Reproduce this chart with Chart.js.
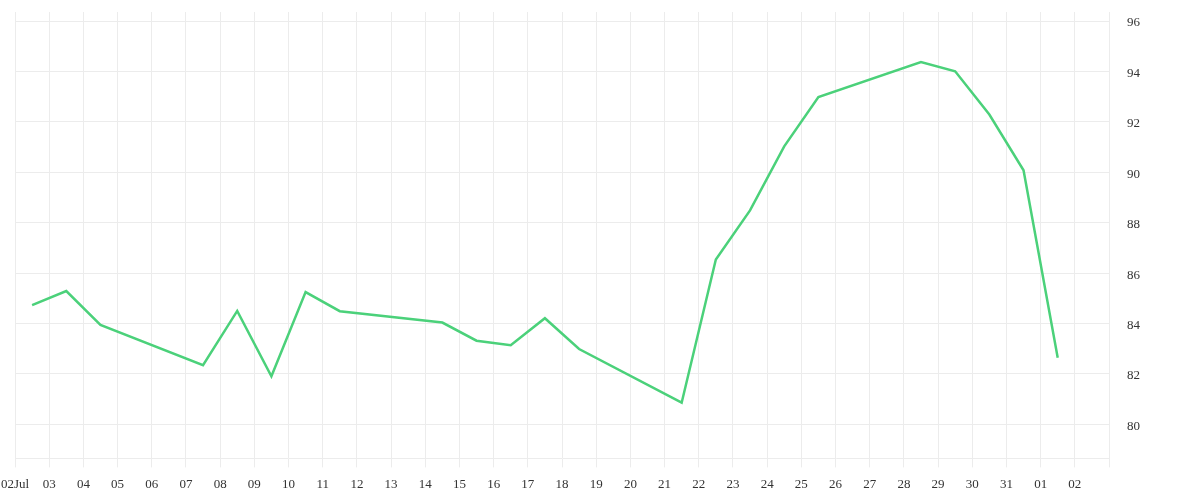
<!DOCTYPE html>
<html lang="en">
<head>
    <meta charset="UTF-8">
    <title>Daily Index</title>
    <style>
        body {
            margin: 0;
            padding: 0;
            background: #ffffff;
        }
        .wrap {
            width: 1200px;
            height: 500px;
        }
    </style>
</head>
<body>
    <div class="wrap">
        <canvas id="lineChart" width="1200" height="500"></canvas>
    </div>

    <script src="https://cdn.jsdelivr.net/npm/chart.js@4"></script>
    <script>
        // Axis labels: one per day, 02 Jul .. 02 Aug
        const dayLabels = ['02Jul', '03', '04', '05', '06', '07', '08', '09', '10', '11', '12', '13',
            '14', '15', '16', '17', '18', '19', '20', '21', '22', '23', '24', '25', '26', '27',
            '28', '29', '30', '31', '01', '02'];

        // Days that have a value (index into dayLabels), some days have no data
        const pointDays = [0, 1, 2, 5, 6, 7, 8, 9, 12, 13, 14, 15, 16, 19, 20, 21, 22, 23, 26, 27, 28, 29, 30];
        const pointValues = [84.73, 85.29, 83.95, 82.35, 84.50, 81.91, 85.25, 84.49, 84.04, 83.32, 83.14,
            84.21, 82.99, 80.86, 86.54, 88.49, 91.03, 92.99, 94.37, 94.01, 92.29, 90.08, 82.64];

        const yTicks = [80, 82, 84, 86, 88, 90, 92, 94, 96];

        const gridColor = '#ececec';
        const textColor = '#333333';
        const fontFamily = '"Liberation Serif", serif';

        // points sit in the middle of each day
        const points = pointDays.map((d, i) => ({ x: d + 0.5, y: pointValues[i] }));

        new Chart(document.getElementById('lineChart'), {
            type: 'line',
            data: {
                datasets: [{
                    data: points,
                    borderColor: '#4bd17a',
                    borderWidth: 2.5,
                    pointRadius: 0,
                    tension: 0,
                    fill: false
                }]
            },
            options: {
                responsive: false,
                animation: false,
                layout: {
                    padding: { top: 12, right: 42, bottom: -1, left: 15 }
                },
                plugins: {
                    legend: { display: false },
                    tooltip: { enabled: false }
                },
                scales: {
                    x: {
                        type: 'linear',
                        min: 0,
                        max: dayLabels.length,
                        grid: {
                            color: gridColor,
                            tickLength: 9
                        },
                        border: { color: gridColor },
                        // let the layout padding decide the plot edges
                        afterFit: (scale) => {
                            scale.paddingLeft = 0;
                            scale.paddingRight = 0;
                        },
                        ticks: {
                            stepSize: 1,
                            autoSkip: false,
                            maxRotation: 0,
                            padding: 9,
                            color: textColor,
                            font: { family: fontFamily, size: 13 },
                            callback: (v) => dayLabels[v] !== undefined ? dayLabels[v] : ''
                        }
                    },
                    y: {
                        position: 'right',
                        min: 78.65,
                        max: 96.36,
                        grid: {
                            color: gridColor,
                            drawTicks: false
                        },
                        border: { color: gridColor },
                        afterBuildTicks: (scale) => {
                            scale.ticks = yTicks.map(v => ({ value: v }));
                        },
                        afterFit: (scale) => {
                            scale.paddingTop = 0;
                            scale.paddingBottom = 0;
                        },
                        ticks: {
                            padding: 18,
                            labelOffset: 2,
                            color: textColor,
                            font: { family: fontFamily, size: 13 }
                        }
                    }
                }
            }
        });
    </script>
</body>
</html>
